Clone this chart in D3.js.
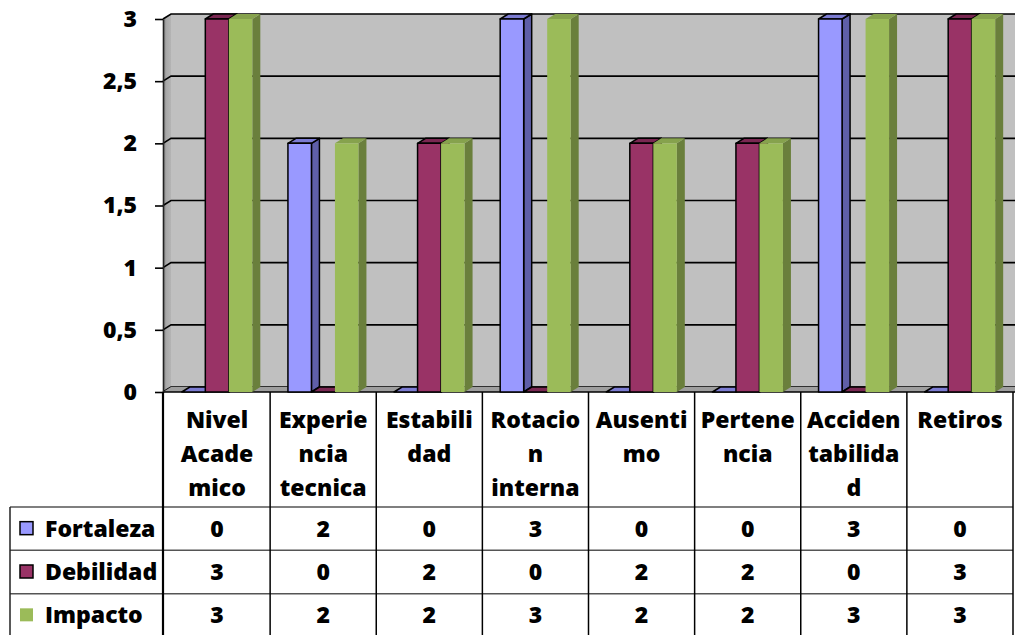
<!DOCTYPE html>
<html><head><meta charset="utf-8">
<script src="https://cdn.jsdelivr.net/npm/d3@7"></script>
<style>body{margin:0;background:#fff}svg{display:block}</style>
</head><body>
<svg id="c" width="1015" height="635"></svg>
<script>
const categories = ["Nivel Academico","Experiencia tecnica","Estabilidad","Rotacion interna","Ausentismo","Pertenencia","Accidentabilidad","Retiros"];
const categoryLines = [["Nivel","Acade","mico"],["Experie","ncia","tecnica"],["Estabili","dad"],["Rotacio","n","interna"],["Ausenti","mo"],["Pertene","ncia"],["Acciden","tabilida","d"],["Retiros"]];
const seriesNames = ["Fortaleza","Debilidad","Impacto"];
const fortaleza = [0,2,0,3,0,0,3,0];
const debilidad = [3,0,2,0,2,2,0,3];
const impacto = [3,2,2,3,2,2,3,3];
const yTicks = [0,0.5,1,1.5,2,2.5,3];

const seriesValues = [fortaleza, debilidad, impacto];
const colors = [
  {front:"#9999FF", side:"#5F5FA8", top:"#7C7CD2", stroke:"#000"},
  {front:"#993366", side:"#6B2447", top:"#7A2852", stroke:"#000"},
  {front:"#9BBB59", side:"#6A7F3C", top:"#86A24D", stroke:null}
];
const FONT = "'Open Sans', sans-serif";
const FS = 23, FW = 800;
const svg = d3.select("#c");
const W = 1015, H = 635;
const left = 163, right = 1013;
const dx = 8, dy = -5;

const x = d3.scaleBand().domain(categories).range([164, right]);
const groupW = 70.5;
const xs = d3.scaleBand().domain(seriesNames).range([0, groupW]);
const y = d3.scaleLinear().domain([0, 3]).range([392, 19]);
const locale = d3.formatLocale({decimal:",", thousands:".", grouping:[3], currency:["",""]});
const fmt = locale.format("~f");

// walls
const yTop = y(3), yBot = y(0);
svg.append("rect").attr("x", left+dx).attr("y", yTop+dy).attr("width", W-left-dx).attr("height", yBot-yTop)
  .attr("fill", "#C0C0C0");
const grad = svg.append("defs").append("linearGradient").attr("id","sw").attr("x1","0").attr("x2","1").attr("y1","0").attr("y2","0");
grad.append("stop").attr("offset","0").attr("stop-color","#7a7a7a");
grad.append("stop").attr("offset","0.4").attr("stop-color","#a8a8a8");
grad.append("stop").attr("offset","1").attr("stop-color","#b4b4b4");
svg.append("path").attr("d", `M${left},${yTop}L${left+dx},${yTop+dy}L${left+dx},${yBot+dy}L${left},${yBot}Z`)
  .attr("fill","url(#sw)");

// gridlines
svg.append("g").selectAll("path").data(yTicks).join("path")
  .attr("d", d => `M${left},${y(d)}L${left+dx},${y(d)+dy}L${W},${y(d)+dy}`)
  .attr("fill","none").attr("stroke","#000").attr("stroke-width",1.6);

// floor
svg.append("path").attr("d", `M${left},${yBot}L${W},${yBot}L${W},${yBot+dy}L${left+dx},${yBot+dy}Z`)
  .attr("fill","#9E9E9E");
svg.append("line").attr("x1",left).attr("x2",W).attr("y1",yBot).attr("y2",yBot)
  .attr("stroke","#000").attr("stroke-width",1.6);

// bars
const barsG = svg.append("g");
categories.forEach((c, ci) => {
  const bx0 = x(c) + (x.bandwidth() - groupW) / 2;
  seriesNames.forEach((s, si) => {
    const v = seriesValues[si][ci];
    const col = colors[si];
    const xL = bx0 + xs(s), w = xs.bandwidth();
    const xR = xL + w;
    const yT = y(v), yB = y(0);
    const g = barsG.append("g");
    const st = (sel) => { if (col.stroke) sel.attr("stroke", col.stroke).attr("stroke-width",1.5).attr("stroke-linejoin","round"); return sel; };
    if (v > 0) {
      st(g.append("path").attr("d", `M${xR},${yT}L${xR+dx},${yT+dy}L${xR+dx},${yB+dy}L${xR},${yB}Z`).attr("fill", col.side));
      st(g.append("path").attr("d", `M${xL},${yT}L${xL+dx},${yT+dy}L${xR+dx},${yT+dy}L${xR},${yT}Z`).attr("fill", col.top));
      st(g.append("rect").attr("x", xL).attr("y", yT).attr("width", w).attr("height", yB-yT).attr("fill", col.front));
    } else {
      st(g.append("path").attr("d", `M${xL},${yB}L${xL+dx},${yB+dy}L${xR+dx},${yB+dy}L${xR},${yB}Z`).attr("fill", col.top));
    }
  });
});

// y axis
const axis = d3.axisLeft(y).tickValues(yTicks).tickSize(8).tickSizeOuter(0).tickPadding(18).tickFormat(fmt);
const ag = svg.append("g").attr("transform", `translate(${left},0)`).call(axis);
ag.select(".domain").attr("stroke","#222").attr("stroke-width",1.6);
ag.selectAll(".tick line").attr("stroke","#000").attr("stroke-width",1.6);
ag.selectAll(".tick text").attr("font-family", FONT).attr("font-weight",FW).attr("font-size",FS).attr("fill","#000");

// data table
const rows = d3.scaleBand().domain(seriesNames).range([507, 637]);
const tg = svg.append("g");
seriesNames.forEach(s => {
  tg.append("line").attr("x1",10).attr("x2",right).attr("y1",rows(s)).attr("y2",rows(s))
    .attr("stroke","#555").attr("stroke-width",1.5);
});
tg.append("line").attr("x1",10).attr("x2",10).attr("y1",rows.range()[0]).attr("y2",H).attr("stroke","#222").attr("stroke-width",1.5);
const bounds = categories.map(c => x(c)).concat([right]);
bounds.forEach((b, i) => {
  tg.append("line").attr("x1", i===0?left:b).attr("x2", i===0?left:b).attr("y1", yBot).attr("y2", H)
    .attr("stroke","#000").attr("stroke-width", i===0?2.2:1.5);
});
categories.forEach((c, ci) => {
  const t = tg.append("text").attr("text-anchor","middle").attr("font-family",FONT).attr("font-weight",FW).attr("font-size",FS).attr("fill","#000");
  categoryLines[ci].forEach((ln, li) => {
    t.append("tspan").attr("x", x(c) + x.bandwidth()/2).attr("y", 428 + li*34).text(ln);
  });
});
seriesNames.forEach((s, si) => {
  const cy = rows(s) + rows.bandwidth()/2;
  const col = colors[si];
  const k = tg.append("rect").attr("x",20).attr("y",cy-7).attr("width",13).attr("height",13).attr("fill",col.front);
  if (col.stroke) k.attr("stroke","#000").attr("stroke-width",1.5);
  tg.append("text").attr("x",45).attr("y",cy+8).attr("font-family",FONT).attr("font-weight",FW).attr("font-size",FS).attr("fill","#000").text(s);
  categories.forEach((c, ci) => {
    tg.append("text").attr("x", x(c)+x.bandwidth()/2).attr("y", cy+8).attr("text-anchor","middle")
      .attr("font-family",FONT).attr("font-weight",FW).attr("font-size",FS).attr("fill","#000")
      .text(seriesValues[si][ci]);
  });
});
</script>
</body></html>
